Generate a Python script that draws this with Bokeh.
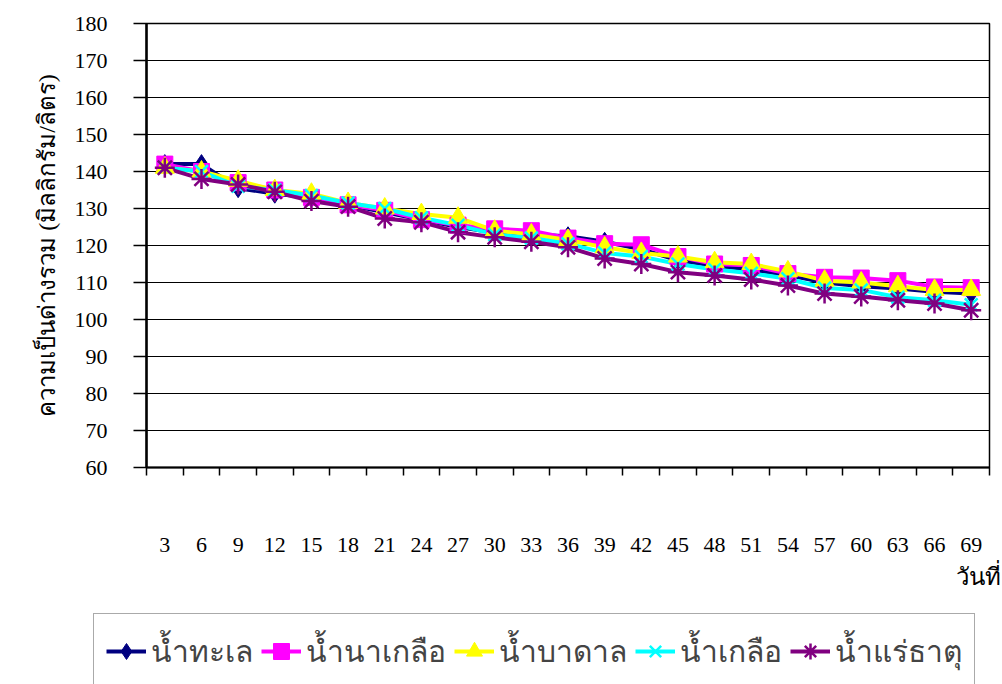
from bokeh.plotting import figure
from bokeh.layouts import column
from bokeh.models import FixedTicker, Legend, LegendItem, Title, Range1d
from bokeh.embed import file_html
from bokeh.resources import INLINE

days = [3, 6, 9, 12, 15, 18, 21, 24, 27, 30, 33, 36, 39, 42, 45, 48, 51, 54, 57, 60, 63, 66, 69]
sea = [142, 142, 135.5, 134, 133, 131, 129, 127, 125, 123.5, 123, 122.5, 121, 119, 116, 114.5, 113.5, 112, 110, 109, 108.4, 107.5, 107]
salt_farm = [142, 140, 137, 135, 133, 131, 129.5, 127, 125.5, 124.5, 124, 122, 120.5, 120.2, 117, 115, 114.6, 112.4, 111.4, 111.2, 110.5, 108.8, 108.6]
ground = [141, 140, 137.5, 135, 134, 131.5, 130, 128.5, 127.5, 124, 123, 121.5, 119.5, 118, 117, 115.5, 115, 113, 110.5, 110, 109, 108, 108]
brine = [141, 140, 136, 135, 133.5, 131.5, 130, 127.5, 125.5, 123, 122, 120.5, 118, 117, 115, 113.5, 112.5, 111, 108.5, 108, 106, 105.2, 104]
mineral = [141, 138, 136.5, 134.5, 132, 130.5, 127.3, 126.3, 123.6, 122.2, 121, 119.5, 116.5, 115, 112.8, 111.9, 110.8, 109.2, 107, 106.2, 105.2, 104.3, 102.5]

names = ["น้ำทะเล", "น้ำนาเกลือ", "น้ำบาดาล", "น้ำเกลือ", "น้ำแร่ธาตุ"]
colors = ["#000080", "#FF00FF", "#FFFF00", "#00FFFF", "#800080"]
markers = ["diamond", "square", "triangle", "x", "asterisk"]
msizes = [19, 16, 19, 18, 20]
series = [sea, salt_farm, ground, brine, mineral]

serif = "Liberation Serif"

p = figure(width=1002, height=612, output_backend="svg", toolbar_location=None,
           x_range=Range1d(1.5, 70.5), y_range=Range1d(60, 180),
           min_border_left=146, min_border_right=13, min_border_top=23, min_border_bottom=145)

p.outline_line_color = "black"
p.outline_line_width = 1.5
p.background_fill_color = "white"
p.border_fill_color = "white"

# x axis
boundaries = [d - 1.5 for d in days] + [days[-1] + 1.5]
p.xaxis.ticker = FixedTicker(ticks=days, minor_ticks=boundaries)
p.xaxis.major_tick_out = 0
p.xaxis.major_tick_in = 0
p.xaxis.minor_tick_out = 8
p.xaxis.minor_tick_in = 0
p.xaxis.minor_tick_line_color = "black"
p.xaxis.minor_tick_line_width = 1.5
p.xaxis.major_label_standoff = 62
p.xaxis.major_label_text_font = serif
p.xaxis.major_label_text_font_size = "22px"
p.xaxis.major_label_text_color = "black"
p.xaxis.axis_line_color = "black"
p.xaxis.axis_line_width = 2
p.xgrid.grid_line_color = None

# y axis
p.yaxis.ticker = FixedTicker(ticks=list(range(60, 181, 10)))
p.yaxis.major_tick_out = 13
p.yaxis.major_tick_in = 0
p.yaxis.minor_tick_line_color = None
p.yaxis.major_tick_line_color = "black"
p.yaxis.major_tick_line_width = 1.5
p.yaxis.axis_line_color = "black"
p.yaxis.axis_line_width = 2.5
p.yaxis.major_label_standoff = 26
p.yaxis.major_label_text_font = serif
p.yaxis.major_label_text_font_size = "22px"
p.yaxis.major_label_text_color = "black"
p.yaxis.axis_label = "ความเป็นด่างรวม (มิลลิกรัม/ลิตร)"
p.yaxis.axis_label_text_font = serif
p.yaxis.axis_label_text_font_size = "24px"
p.yaxis.axis_label_text_font_style = "normal"
p.yaxis.axis_label_standoff = 12
p.yaxis.axis_label_text_color = "black"
p.ygrid.grid_line_color = "black"
p.ygrid.grid_line_width = 1.2

for s, c in zip(series, colors):
    p.line(days, s, line_color=c, line_width=4)

for s, c, m, ms in zip(series, colors, markers, msizes):
    if m in ("x", "asterisk"):
        p.scatter(days, s, marker=m, size=ms, line_color=c, line_width=2.5, fill_color=c)
    else:
        p.scatter(days, s, marker=m, size=ms, line_color=c, fill_color=c)

# x-axis title (right aligned, below tick labels)
xt = Title(text="วันที่", align="right", text_font=serif, text_font_size="24px",
           text_font_style="normal", text_color="black", offset=-11, standoff=15)
p.add_layout(xt, "below")

# legend strip (separate, unaligned plot so the legend can span the full width)
p2 = figure(width=1002, height=72, output_backend="svg", toolbar_location=None,
            x_axis_type=None, y_axis_type=None,
            x_range=Range1d(0, 1), y_range=Range1d(0, 1),
            min_border_left=0, min_border_right=0, min_border_top=0, min_border_bottom=0)
p2.outline_line_color = None
p2.xgrid.grid_line_color = None
p2.ygrid.grid_line_color = None
p2.border_fill_color = "white"
for fig in (p, p2):
    try:
        fig.frame_align = False
    except Exception:
        pass

legend_items = []
for s, name, c, m, ms in zip(series, names, colors, markers, msizes):
    # legend-key proxies: one point each, lying outside this strip's ranges
    r1 = p2.line(x=days[:1], y=s[:1], line_color=c, line_width=4)
    if m in ("x", "asterisk"):
        r2 = p2.scatter(x=days[:1], y=s[:1], marker=m, size=ms, line_color=c, line_width=2.5, fill_color=c)
    else:
        r2 = p2.scatter(x=days[:1], y=s[:1], marker=m, size=ms, line_color=c, fill_color=c)
    legend_items.append(LegendItem(label=name, renderers=[r1, r2]))

legend = Legend(items=legend_items, orientation="horizontal", location=(93, -5),
                label_text_font=serif, label_text_font_size="30px",
                glyph_width=40, glyph_height=50, spacing=8, padding=12,
                label_standoff=5, border_line_color="#555555", border_line_width=1.5,
                background_fill_alpha=1.0, margin=0)
p2.add_layout(legend)

layout = column(p, p2, spacing=0)
open("out.html", "w").write(file_html(layout, INLINE))
